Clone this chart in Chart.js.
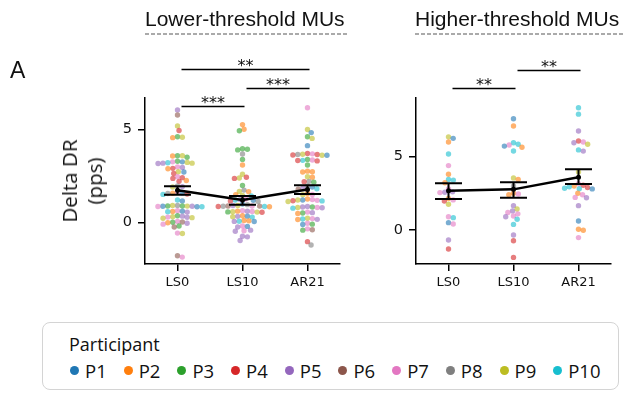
<!DOCTYPE html>
<html>
<head>
<meta charset="utf-8">
<script src="https://cdn.jsdelivr.net/npm/chart.js@4.4.1/dist/chart.umd.min.js"></script>
<style>
  body { margin: 0; background: #fff; }
  #wrap { position: relative; width: 625px; height: 394px; overflow: hidden; }
  canvas { position: absolute; top: 0; }
  .ttl { position: absolute; top: 6px; font: 21px "Liberation Sans", Arial, sans-serif; color: #111; white-space: nowrap; line-height: 25px; }
  .dash { position: absolute; top: 33px; height: 1.5px; background: repeating-linear-gradient(to right, #aaa 0 4px, transparent 4px 6px); }
  #panelA { position: absolute; left: 10px; top: 57px; font: 23px "Liberation Sans", Arial, sans-serif; color: #111; }
  #ylab { position: absolute; left: 82px; top: 181px; transform: translate(-50%, -50%) rotate(-90deg); font: 20.5px "Open Sans", sans-serif; color: #111; text-align: center; line-height: 25px; white-space: nowrap; }
  #legend { position: absolute; left: 42px; top: 322px; width: 575px; height: 66px; border: 1.5px solid #d4d4d4; border-radius: 8px; font-family: "Open Sans", sans-serif; color: #111; }
  #legend .head { position: absolute; left: 26px; top: 9px; font-size: 18px; }
  #legend .items { position: absolute; left: 27px; top: 35px; display: flex; }
  #legend .item { width: 53.7px; display: flex; align-items: center; font-size: 18.5px; }
  #legend .dot { width: 9px; height: 9px; border-radius: 50%; margin-right: 6px; }
</style>
</head>
<body>
<div id="wrap">
  <canvas id="low" width="345" height="305" style="left:0"></canvas>
  <canvas id="high" width="280" height="305" style="left:345px"></canvas>
  <div class="ttl" style="left:145px">Lower-threshold MUs</div>
  <div class="dash" style="left:145px;width:204px"></div>
  <div class="ttl" style="left:415px">Higher-threshold MUs</div>
  <div class="dash" style="left:415px;width:208px"></div>
  <div id="panelA">A</div>
  <div id="ylab">Delta DR<br>(pps)</div>
  <div id="legend"><div class="head">Participant</div><div class="items" id="items"></div></div>
</div>
<script>
// categories and participants
const categories = ["LS0", "LS10", "AR21"];
const participants = ["P1", "P2", "P3", "P4", "P5", "P6", "P7", "P8", "P9", "P10"];
const participantColors = ["#1f77b4", "#ff7f0e", "#2ca02c", "#d62728", "#9467bd", "#8c564b", "#e377c2", "#7f7f7f", "#bcbd22", "#17becf"];
const yTicks = [0, 5];

// Lower-threshold MUs: values and participant number of each point
const lowLS0Values = [6.04, 5.77, 5.18, 4.93, 4.6, 4.57, 4.55, 3.58, 3.56, 3.5, 3.58, 3.28, 3.25, 3.25, 3.22, 3.2, 3.18, 3.18, 3.16,
  2.98, 2.95, 2.9, 2.88, 2.72, 2.7, 2.62, 2.45, 2.4, 2.36, 2.25, 2.2, 1.95, 1.92, 1.9, 1.62, 1.58, 1.56, 1.55, 1.52, 1.5, 1.2, 1.15,
  0.9, 0.9, 0.88, 0.88, 0.87, 0.86, 0.86, 0.85, 0.84, 0.84, 0.62, 0.6, 0.58, 0.57, 0.55, 0.35, 0.33, 0.3, 0.28, 0.27, 0.25, 0.22,
  0.05, 0.02, 0.0, -0.02, -0.05, -0.1, -0.2, -0.25, -0.58, -0.6, -1.8, -1.87];
const lowLS0Who = [5, 6, 9, 4, 3, 9, 2, 3, 2, 3, 9, 3, 1, 7, 9, 10, 5, 9, 5,
  7, 5, 4, 2, 9, 1, 4, 7, 4, 4, 2, 4, 8, 5, 9, 7, 1, 2, 8, 4, 10, 10, 1,
  8, 9, 3, 3, 9, 1, 5, 7, 1, 10, 7, 1, 2, 10, 5, 3, 5, 9, 7, 5, 9, 9,
  7, 6, 3, 2, 5, 7, 3, 6, 7, 9, 6, 7];

const lowLS10Values = [5.25, 5.0, 4.92, 3.95, 3.93, 3.89, 3.67, 3.38, 3.08, 2.58, 2.42, 2.38, 2.36, 1.98, 1.73, 1.66, 1.64,
  1.48, 1.45, 1.42, 1.25, 1.22, 1.2, 1.18, 1.15, 1.12, 0.98, 0.95, 0.9, 0.9, 0.88, 0.88, 0.87, 0.86, 0.85, 0.85, 0.84,
  0.62, 0.6, 0.6, 0.58, 0.57, 0.56, 0.55, 0.54, 0.35, 0.33, 0.32, 0.3, 0.28, 0.1, 0.08, 0.06, 0.05, 0.04,
  -0.2, -0.22, -0.25, -0.42, -0.45, -0.48, -0.75, -0.78, -0.98];
const lowLS10Who = [2, 2, 3, 3, 3, 3, 8, 3, 2, 9, 4, 9, 4, 3, 8, 9, 2,
  2, 9, 10, 7, 5, 10, 1, 4, 8, 1, 8, 9, 5, 7, 6, 6, 8, 10, 4, 2,
  7, 5, 2, 7, 9, 3, 9, 4, 2, 1, 5, 9, 10, 2, 2, 10, 5, 1,
  7, 1, 5, 5, 7, 5, 5, 5, 5];

const lowAR21Values = [6.16, 4.99, 4.82, 4.6, 4.51, 4.12, 3.7, 3.68, 3.66, 3.65, 3.64, 3.62, 3.6, 3.6, 3.38, 3.35, 3.33, 3.32, 3.3,
  3.08, 2.75, 2.72, 2.7, 2.45, 2.42, 2.2, 2.18, 2.15, 1.95, 1.9, 1.85, 1.8, 1.78, 1.55, 1.5, 1.48,
  1.25, 1.22, 1.2, 1.2, 1.18, 1.16, 1.15, 1.12, 0.85, 0.82, 0.82, 0.8, 0.8, 0.78, 0.76, 0.55, 0.52, 0.5, 0.48,
  0.22, 0.2, 0.18, 0.16, 0.15, -0.05, -0.1, -0.12, -0.35, -0.4, -0.42, -1.04, -1.22];
const lowAR21Who = [7, 9, 1, 3, 9, 1, 4, 7, 9, 8, 4, 4, 9, 1, 3, 7, 10, 4, 4,
  3, 2, 2, 2, 9, 2, 8, 4, 3, 8, 1, 5, 10, 6, 2, 7, 9,
  2, 7, 1, 9, 7, 4, 10, 9, 5, 3, 5, 7, 9, 5, 10, 7, 5, 3, 2,
  9, 7, 10, 5, 2, 7, 3, 1, 7, 6, 3, 4, 8];

// Higher-threshold MUs
const highLS0Values = [6.35, 6.25, 6.0, 5.18, 4.39, 3.8, 3.45, 3.4, 3.22, 2.79, 2.6, 2.57, 2.55, 2.15, 2.05, 1.97, 1.75, 0.9, 0.84, 0.5, 0.41, -0.68, -1.3];
const highLS0Who = [9, 1, 2, 10, 7, 2, 10, 10, 2, 7, 5, 5, 7, 2, 7, 4, 9, 7, 10, 1, 7, 5, 4];

const highLS10Values = [7.59, 7.09, 5.95, 5.85, 5.8, 5.72, 5.64, 5.39, 3.55, 3.45, 3.0, 2.5, 2.45, 2.4, 1.66, 1.43, 1.3, 1.2, 1.1, 0.95, 0.9, 0.73, 0.38, -0.34, -0.73, -1.87];
const highLS10Who = [1, 2, 10, 10, 7, 1, 2, 10, 9, 2, 8, 2, 7, 2, 5, 9, 5, 7, 7, 7, 5, 10, 10, 5, 4, 4];

const highAR21Values = [8.34, 7.9, 6.75, 6.07, 6.0, 5.95, 5.85, 5.46, 5.38, 3.95, 3.15, 3.05, 3.0, 2.95, 2.9, 2.85, 2.82, 2.8, 2.5, 2.4, 2.22, 2.2, 1.66, 0.61, 0.05, -0.02, -0.52];
const highAR21Who = [10, 10, 5, 4, 7, 5, 9, 10, 5, 9, 7, 4, 2, 10, 4, 10, 10, 1, 2, 7, 7, 5, 5, 1, 2, 2, 7];

// means and error bar ends
const lowMeans = [1.72, 1.2, 1.76];
const lowErrLow = [1.48, 0.94, 1.52];
const lowErrHigh = [1.94, 1.42, 1.99];
const highMeans = [2.68, 2.77, 3.59];
const highErrLow = [2.11, 2.2, 3.13];
const highErrHigh = [3.18, 3.25, 4.14];

// significance brackets (category from, category to, label, height in data units)
const lowBrackets = [
  { from: 0, to: 2, label: "**", at: 8.24 },
  { from: 1, to: 2, label: "***", at: 7.22 },
  { from: 0, to: 1, label: "***", at: 6.25 }
];
const highBrackets = [
  { from: 1, to: 2, label: "**", at: 10.9 },
  { from: 0, to: 1, label: "**", at: 9.68 }
];

const DOT_R = 2.7;
const DOT_GAP = 4.9;

function fade(hex, a) {
  const n = parseInt(hex.slice(1), 16);
  return "rgba(" + (n >> 16) + "," + ((n >> 8) & 255) + "," + (n & 255) + "," + a + ")";
}

// beeswarm: each point goes as near the centre as it can without overlapping
function swarm(ys, d) {
  const order = ys.map((y, i) => i).sort((a, b) => ys[a] - ys[b]);
  const placed = [];
  const off = new Array(ys.length).fill(0);
  for (const i of order) {
    const y = ys[i];
    const near = placed.filter(p => Math.abs(p.y - y) < d);
    const cands = [0];
    near.forEach(p => {
      const dx = Math.sqrt(d * d - (p.y - y) * (p.y - y));
      cands.push(p.x + dx, p.x - dx);
    });
    cands.sort((a, b) => Math.abs(a) - Math.abs(b));
    const x = cands.find(c => near.every(p => (p.x - c) ** 2 + (p.y - y) ** 2 >= d * d - 0.01));
    placed.push({ x: x, y: y });
    off[i] = x;
  }
  return off;
}

const errorBars = {
  id: "errorBars",
  afterDatasetsDraw(chart, args, opts) {
    const c = chart.ctx, xs = chart.scales.x, ys = chart.scales.y;
    c.save();
    c.strokeStyle = "#000";
    c.lineWidth = 2;
    opts.low.forEach((lo, i) => {
      const x = xs.getPixelForValue(i);
      const y1 = ys.getPixelForValue(lo), y2 = ys.getPixelForValue(opts.high[i]);
      c.beginPath();
      c.moveTo(x, y1); c.lineTo(x, y2);
      c.moveTo(x - 13.5, y1); c.lineTo(x + 13.5, y1);
      c.moveTo(x - 13.5, y2); c.lineTo(x + 13.5, y2);
      c.stroke();
    });
    c.restore();
  }
};

const brackets = {
  id: "brackets",
  afterDraw(chart, args, opts) {
    const c = chart.ctx, xs = chart.scales.x, ys = chart.scales.y;
    c.save();
    c.strokeStyle = "#000";
    c.fillStyle = "#111";
    c.lineWidth = 1.5;
    c.font = '16px "DejaVu Sans"';
    c.textAlign = "center";
    c.textBaseline = "alphabetic";
    opts.items.forEach(b => {
      const x1 = xs.getPixelForValue(b.from) + 4, x2 = xs.getPixelForValue(b.to) + 2;
      const y = Math.round(ys.getPixelForValue(b.at)) + 0.5;
      c.beginPath();
      c.moveTo(x1, y); c.lineTo(x2, y);
      c.stroke();
      c.fillText(b.label, (x1 + x2) / 2, y + 1);
    });
    c.restore();
  }
};

function makePanel(id, groups, means, lo, hi, yMin, yMax, yWidth, padRight, bracketList) {
  const datasets = [{
    type: "line",
    data: means.map((m, i) => ({ x: i, y: m })),
    borderColor: "#000",
    borderWidth: 2.5,
    pointRadius: 2.5,
    pointBackgroundColor: "#000",
    pointBorderWidth: 0,
    order: 0
  }];
  groups.forEach((g, ci) => {
    datasets.push({
      type: "scatter",
      data: g.vals.map(v => ({ x: ci, y: v })),
      backgroundColor: g.who.map(p => fade(participantColors[p - 1], 0.6)),
      borderWidth: 0,
      pointRadius: DOT_R,
      order: 1
    });
  });
  const chart = new Chart(document.getElementById(id), {
    type: "scatter",
    data: { datasets: datasets },
    options: {
      responsive: false,
      animation: false,
      layout: { padding: { top: 98, right: padRight, left: 0, bottom: 0 } },
      plugins: {
        legend: { display: false },
        tooltip: { enabled: false },
        errorBars: { low: lo, high: hi },
        brackets: { items: bracketList }
      },
      scales: {
        x: {
          type: "linear", min: -0.5, max: 2.5,
          afterBuildTicks: s => { s.ticks = categories.map((c, i) => ({ value: i })); },
          afterFit: s => { s.height = 41; },
          ticks: { callback: v => categories[v], color: "#111", font: { family: "DejaVu Sans", size: 13 }, padding: 4, maxRotation: 0 },
          grid: { display: true, drawOnChartArea: false, drawTicks: true, tickLength: 7, color: "#000", lineWidth: 1.5 },
          border: { display: true, color: "#000", width: 1.5 }
        },
        y: {
          min: yMin, max: yMax,
          afterBuildTicks: s => { s.ticks = yTicks.map(v => ({ value: v })); },
          afterFit: s => { s.width = yWidth; },
          ticks: { color: "#111", font: { family: "DejaVu Sans", size: 14.5 }, padding: 6 },
          grid: { display: true, drawOnChartArea: false, drawTicks: true, tickLength: 7, color: "#000", lineWidth: 1.5 },
          border: { display: true, color: "#000", width: 1.5 }
        }
      }
    },
    plugins: [errorBars, brackets]
  });
  // spread the points of each category into a swarm
  const xs = chart.scales.x, ys = chart.scales.y;
  const pxPerCat = xs.getPixelForValue(1) - xs.getPixelForValue(0);
  groups.forEach((g, ci) => {
    const off = swarm(g.vals.map(v => ys.getPixelForValue(v)), DOT_GAP);
    chart.data.datasets[ci + 1].data = g.vals.map((v, i) => ({ x: ci + off[i] / pxPerCat, y: v }));
  });
  chart.update("none");
  return chart;
}

makePanel("low", [
  { vals: lowLS0Values, who: lowLS0Who },
  { vals: lowLS10Values, who: lowLS10Who },
  { vals: lowAR21Values, who: lowAR21Who }
], lowMeans, lowErrLow, lowErrHigh, -2.24, 6.68, 145, 5, lowBrackets);

makePanel("high", [
  { vals: highLS0Values, who: highLS0Who },
  { vals: highLS10Values, who: highLS10Who },
  { vals: highAR21Values, who: highAR21Who }
], highMeans, highErrLow, highErrHigh, -2.32, 9.0, 71, 14, highBrackets);

// participant legend
const box = document.getElementById("items");
participants.forEach((p, i) => {
  const it = document.createElement("div");
  it.className = "item";
  it.innerHTML = '<span class="dot" style="background:' + participantColors[i] + '"></span>' + p;
  box.appendChild(it);
});
</script>
</body>
</html>
